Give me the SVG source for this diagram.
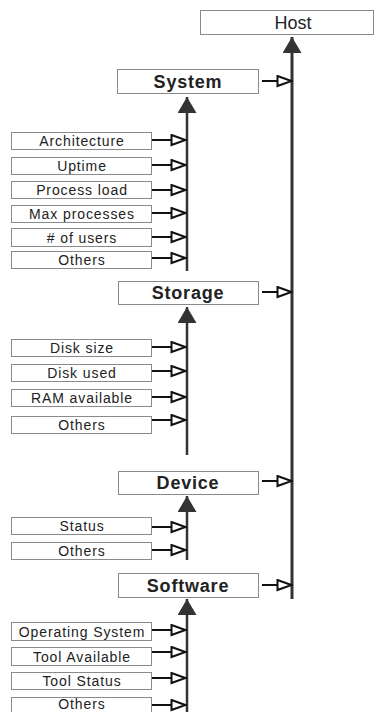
<svg xmlns="http://www.w3.org/2000/svg" width="375" height="712" viewBox="0 0 375 712">
  <style>
    .box { fill: #ffffff; stroke: #8a8a8a; stroke-width: 1; }
    .item { font-family: "Liberation Sans", Arial, sans-serif; font-size: 14px; letter-spacing: 0.9px; fill: #222; text-anchor: middle; }
    .head { font-family: "Liberation Sans", Arial, sans-serif; font-size: 18px; font-weight: bold; letter-spacing: 0.8px; fill: #222; text-anchor: middle; }
    .host { font-family: "Liberation Sans", Arial, sans-serif; font-size: 18px; fill: #222; text-anchor: middle; }
    .feed { stroke: #111; stroke-width: 2; fill: none; marker-end: url(#open); }
    .trunk { stroke: #333; stroke-width: 3; fill: none; marker-end: url(#solid); }
    .spine { stroke: #333; stroke-width: 2.5; fill: none; marker-end: url(#solid); }
  </style>
  <defs>
    <marker id="open" markerUnits="userSpaceOnUse" viewBox="0 0 17 13" markerWidth="17" markerHeight="13" refX="16" refY="6.5" orient="auto">
      <path d="M1.5,1.5 L15.5,6.5 L1.5,11.5 Z" fill="#fff" stroke="#111" stroke-width="2" stroke-linejoin="miter"/>
    </marker>
    <marker id="solid" markerUnits="userSpaceOnUse" viewBox="0 0 16 19" markerWidth="16" markerHeight="19" refX="16" refY="9.5" orient="auto">
      <path d="M0,0 L16,9.5 L0,19 Z" fill="#333"/>
    </marker>
  </defs>

  <rect width="375" height="712" fill="#fff"/>

  <!-- connectors -->
  <g id="connectors">
    <!-- main trunk into Host -->
    <line class="trunk" x1="292" y1="599" x2="292" y2="37"/>
    <!-- category spines -->
    <line class="spine" x1="187" y1="271" x2="187" y2="97"/>
    <line class="spine" x1="187" y1="455" x2="187" y2="307"/>
    <line class="spine" x1="187" y1="560" x2="187" y2="496"/>
    <line class="spine" x1="187" y1="712" x2="187" y2="599"/>
    <!-- categories into trunk -->
    <line class="feed" x1="262" y1="81" x2="292" y2="81"/>
    <line class="feed" x1="262" y1="292" x2="292" y2="292"/>
    <line class="feed" x1="262" y1="481" x2="292" y2="481"/>
    <line class="feed" x1="262" y1="585" x2="292" y2="585"/>
    <!-- System attributes -->
    <line class="feed" x1="152" y1="140" x2="186" y2="140"/>
    <line class="feed" x1="152" y1="165" x2="186" y2="165"/>
    <line class="feed" x1="152" y1="190" x2="186" y2="190"/>
    <line class="feed" x1="152" y1="213" x2="186" y2="213"/>
    <line class="feed" x1="152" y1="237" x2="186" y2="237"/>
    <line class="feed" x1="152" y1="258" x2="186" y2="258"/>
    <!-- Storage attributes -->
    <line class="feed" x1="152" y1="347" x2="186" y2="347"/>
    <line class="feed" x1="152" y1="371" x2="186" y2="371"/>
    <line class="feed" x1="152" y1="397" x2="186" y2="397"/>
    <line class="feed" x1="152" y1="420" x2="186" y2="420"/>
    <!-- Device attributes -->
    <line class="feed" x1="152" y1="527" x2="186" y2="527"/>
    <line class="feed" x1="152" y1="550" x2="186" y2="550"/>
    <!-- Software attributes -->
    <line class="feed" x1="152" y1="630" x2="186" y2="630"/>
    <line class="feed" x1="152" y1="652" x2="186" y2="652"/>
    <line class="feed" x1="152" y1="678" x2="186" y2="678"/>
    <line class="feed" x1="152" y1="705" x2="186" y2="705"/>
  </g>

  <!-- root -->
  <g id="host">
    <rect class="box" x="200.5" y="10.5" width="173" height="24"/>
    <text class="host" x="293" y="29">Host</text>
  </g>

  <!-- categories -->
  <g id="system">
    <rect class="box" x="117.5" y="69.5" width="141" height="24"/>
    <text class="head" x="188" y="88">System</text>
  </g>
  <g id="storage">
    <rect class="box" x="118.5" y="281.5" width="140" height="23"/>
    <text class="head" x="188" y="299">Storage</text>
  </g>
  <g id="device">
    <rect class="box" x="118.5" y="471.5" width="140" height="23"/>
    <text class="head" x="188" y="489">Device</text>
  </g>
  <g id="software">
    <rect class="box" x="118.5" y="573.5" width="140" height="24"/>
    <text class="head" x="188" y="592">Software</text>
  </g>

  <!-- System attributes -->
  <g id="architecture">
    <rect class="box" x="11.5" y="132.5" width="140" height="17"/>
    <text class="item" x="82" y="146">Architecture</text>
  </g>
  <g id="uptime">
    <rect class="box" x="11.5" y="157.5" width="140" height="17"/>
    <text class="item" x="82" y="171">Uptime</text>
  </g>
  <g id="process-load">
    <rect class="box" x="11.5" y="181.5" width="140" height="17"/>
    <text class="item" x="82" y="195">Process load</text>
  </g>
  <g id="max-processes">
    <rect class="box" x="11.5" y="205.5" width="140" height="17"/>
    <text class="item" x="82" y="219">Max processes</text>
  </g>
  <g id="users">
    <rect class="box" x="11.5" y="228.5" width="140" height="18"/>
    <text class="item" x="82" y="243"># of users</text>
  </g>
  <g id="system-others">
    <rect class="box" x="11.5" y="251.5" width="140" height="17"/>
    <text class="item" x="82" y="265">Others</text>
  </g>

  <!-- Storage attributes -->
  <g id="disk-size">
    <rect class="box" x="11.5" y="339.5" width="140" height="17"/>
    <text class="item" x="82" y="353">Disk size</text>
  </g>
  <g id="disk-used">
    <rect class="box" x="11.5" y="364.5" width="140" height="17"/>
    <text class="item" x="82" y="378">Disk used</text>
  </g>
  <g id="ram-available">
    <rect class="box" x="11.5" y="389.5" width="140" height="17"/>
    <text class="item" x="82" y="403">RAM available</text>
  </g>
  <g id="storage-others">
    <rect class="box" x="11.5" y="416.5" width="140" height="17"/>
    <text class="item" x="82" y="430">Others</text>
  </g>

  <!-- Device attributes -->
  <g id="status">
    <rect class="box" x="11.5" y="517.5" width="140" height="17"/>
    <text class="item" x="82" y="531">Status</text>
  </g>
  <g id="device-others">
    <rect class="box" x="11.5" y="542.5" width="140" height="17"/>
    <text class="item" x="82" y="556">Others</text>
  </g>

  <!-- Software attributes -->
  <g id="operating-system">
    <rect class="box" x="11.5" y="622.5" width="140" height="18"/>
    <text class="item" x="82" y="637">Operating System</text>
  </g>
  <g id="tool-available">
    <rect class="box" x="11.5" y="647.5" width="140" height="18"/>
    <text class="item" x="82" y="662">Tool  Available</text>
  </g>
  <g id="tool-status">
    <rect class="box" x="11.5" y="672.5" width="140" height="17"/>
    <text class="item" x="82" y="686">Tool Status</text>
  </g>
  <g id="software-others">
    <rect class="box" x="11.5" y="697.5" width="140" height="18"/>
    <text class="item" x="82" y="709">Others</text>
  </g>
</svg>
